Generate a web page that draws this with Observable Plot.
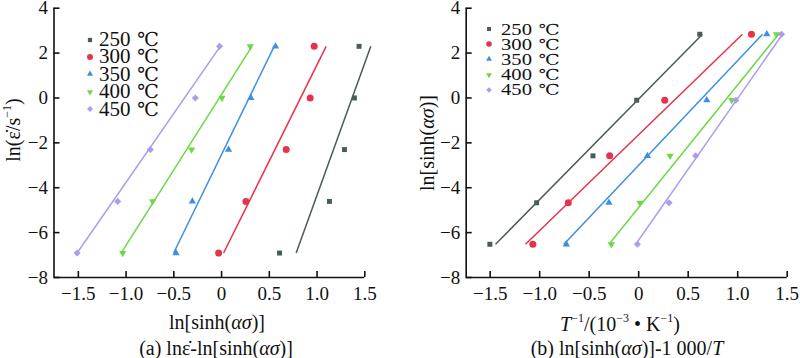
<!DOCTYPE html>
<html><head><meta charset="utf-8">
<script src="https://cdn.jsdelivr.net/npm/d3@7"></script>
<script src="https://cdn.jsdelivr.net/npm/@observablehq/plot@0.6"></script>
<style>
body{margin:0;background:#fff;}
#wrap{position:relative;width:800px;height:358px;font-family:"Liberation Serif","Times New Roman",serif;color:#111;overflow:hidden;}
.pl{position:absolute;top:0;}
.lbl{position:absolute;white-space:nowrap;transform:translate(-50%,-50%);font-size:20px;line-height:1;}
.rot{transform:translate(-50%,-50%) rotate(-90deg);}
sup{font-size:0.6em;line-height:0;vertical-align:0.75em;}
.leg{position:absolute;}
.leg div{position:relative;white-space:nowrap;}
.leg svg{position:absolute;overflow:visible;}
.leg .txt{display:inline-block;transform-origin:0 50%;}
.deg{font-family:"DejaVu Serif","Liberation Serif",serif;font-size:0.92em;margin-left:0.35em;}
</style></head>
<body><div id="wrap"></div>
<script>
// ---------- data ----------
const temps = ["250 ℃", "300 ℃", "350 ℃", "400 ℃", "450 ℃"];
const colors = ["#4a5b58", "#e8324b", "#3c8fe2", "#6ad946", "#aa9ded"];
const xTicks = [-1.5, -1.0, -0.5, 0, 0.5, 1.0, 1.5];
const yTicks = [-8, -6, -4, -2, 0, 2, 4];

// (a) ln(strain rate) vs ln[sinh(ασ)]
const aY = [-6.91, -4.61, -2.30, 0, 2.30];
const aX250 = [0.607, 1.130, 1.287, 1.391, 1.440];
const aX300 = [-0.031, 0.255, 0.677, 0.928, 0.970];
const aX350 = [-0.477, -0.306, 0.073, 0.307, 0.565];
const aX400 = [-1.036, -0.722, -0.314, 0.004, 0.300];
const aX450 = [-1.513, -1.088, -0.746, -0.275, -0.021];
const aFitX1 = [0.781, 0.021, -0.502, -1.052, -1.513];
const aFitX2 = [1.563, 1.095, 0.551, 0.318, -0.014];
const aFitY = [-6.91, 2.30];

// (b) ln[sinh(ασ)] vs 1000/T
const bY = [-6.52, -4.67, -2.58, -0.10, 2.84];
const bX250 = [-1.503, -1.031, -0.462, -0.020, 0.617];
const bX300 = [-1.069, -0.711, -0.293, 0.263, 1.139];
const bX350 = [-0.731, -0.300, 0.088, 0.688, 1.294];
const bX400 = [-0.276, 0.013, 0.317, 0.940, 1.392];
const bX450 = [-0.013, 0.307, 0.576, 0.981, 1.443];
const bFitX1 = [-1.446, -1.143, -0.755, -0.300, -0.030];
const bFitX2 = [0.644, 1.048, 1.251, 1.413, 1.453];
const bFitY = [-6.52, 2.84];

// ---------- symbols ----------
const sqrt3 = Math.sqrt(3);
const triDown = {draw(ctx, size) {
  const y = -Math.sqrt(size / (sqrt3 * 3));
  ctx.moveTo(0, -y * 2); ctx.lineTo(-sqrt3 * y, y); ctx.lineTo(sqrt3 * y, y); ctx.closePath();
}};
const symbols = [d3.symbolSquare, d3.symbolCircle, d3.symbolTriangle, triDown, d3.symbolDiamond2];
const radii = [2.8, 3.5, 2.7, 2.7, 3.2];

const fmtX = d => d === 0 ? "0" : (d < 0 ? "\u2212" : "") + Math.abs(d).toFixed(1);
const fmtY = d => (d < 0 ? "\u2212" : "") + Math.abs(d);

function panel(ys, xsList, fitX1, fitX2, fitY, xDomain, mL, mR) {
  const W = 400, H = 358, mT = 7.7, mB = 81;
  const plotW = W - mL - mR, plotH = H - mT - mB;
  const fits = temps.map((t, i) => ({i, x1: fitX1[i], x2: fitX2[i], y1: fitY[0], y2: fitY[1]}));
  const marks = [
    Plot.ruleY([yTicks[0]], {stroke: "#111", strokeWidth: 1.6}),
    Plot.ruleX([xDomain[0]], {stroke: "#111", strokeWidth: 1.6}),
    Plot.tickX(xTicks, {x: d => d, insetTop: plotH - 6, stroke: "#111", strokeWidth: 1.6}),
    Plot.tickY(yTicks, {y: d => d, insetRight: plotW - 6, stroke: "#111", strokeWidth: 1.6}),
    Plot.axisX({ticks: xTicks, tickSize: 0, tickPadding: 9, tickFormat: fmtX, label: null}),
    Plot.axisY({ticks: yTicks, tickSize: 0, tickPadding: 6, tickFormat: fmtY, label: null}),
    Plot.link(fits, {x1: "x1", y1: "y1", x2: "x2", y2: "y2", stroke: d => colors[d.i], strokeWidth: 1.5})
  ];
  xsList.forEach((xs, i) => {
    const pts = xs.map((x, k) => ({x, y: ys[k]}));
    marks.push(Plot.dot(pts, {x: "x", y: "y", symbol: symbols[i], r: radii[i], fill: colors[i], stroke: "none"}));
  });
  return Plot.plot({
    width: W, height: H, marginLeft: mL, marginRight: mR, marginTop: mT, marginBottom: mB,
    x: {domain: xDomain}, y: {domain: [yTicks[0], yTicks[yTicks.length - 1]]},
    color: {type: "identity"},
    style: {fontFamily: '"Liberation Serif","Times New Roman",serif', fontSize: "19px", color: "#111", background: "transparent"},
    marks
  });
}

const wrap = document.getElementById("wrap");
const pa = panel(aY, [aX250, aX300, aX350, aX400, aX450], aFitX1, aFitX2, aFitY, [-1.755, 1.5], 53.5, 35.7);
pa.classList.add("pl"); pa.style.left = "0px"; wrap.appendChild(pa);
const pb = panel(bY, [bX250, bX300, bX350, bX400, bX450], bFitX1, bFitX2, bFitY, [-1.742, 1.5], 65.7, 13.3);
pb.classList.add("pl"); pb.style.left = "400px"; wrap.appendChild(pb);

function label(html, x, y, rot, size) {
  const d = document.createElement("div");
  d.className = "lbl" + (rot ? " rot" : "");
  d.style.left = x + "px"; d.style.top = y + "px";
  if (size) d.style.fontSize = size + "px";
  d.innerHTML = html; wrap.appendChild(d);
}
label("ln(\u03b5\u0307/s<sup>\u22121</sup>)", 13, 130, true);
label("ln[sinh(<i>\u03b1\u03c3</i>)]", 217, 322);
label("(a) ln\u03b5\u0307-ln[sinh(<i>\u03b1\u03c3</i>)]", 216, 348);
label("ln[sinh(<i>\u03b1\u03c3</i>)]", 427, 143, true);
label("<i>T</i><sup>\u22121</sup>/(10<sup>\u22123</sup> \u2022 K<sup>\u22121</sup>)", 620, 324);
label("(b) ln[sinh(<i>\u03b1\u03c3</i>)]-1 000/<i>T</i>", 627, 348);

function legend(left, top, rowH, markX, textX, fontSize, sx, symScale) {
  const g = document.createElement("div");
  g.className = "leg"; g.style.left = left + "px"; g.style.top = top + "px";
  g.style.fontSize = fontSize + "px";
  temps.forEach((t, i) => {
    const row = document.createElement("div");
    row.style.height = rowH + "px"; row.style.lineHeight = rowH + "px";
    row.style.paddingLeft = textX + "px";
    const sym = d3.symbol(symbols[i], Math.PI * (radii[i] * symScale) ** 2)();
    const [num, unit] = t.split(" ");
    row.innerHTML = `<svg width="1" height="1" style="left:${markX}px;top:${rowH / 2}px"><path d="${sym}" fill="${colors[i]}"/></svg><span class="txt" style="transform:scaleX(${sx})">${num}<span class="deg">${unit}</span></span>`;
    g.appendChild(row);
  });
  wrap.appendChild(g);
}
legend(81, 31, 17.4, 9, 18, 21, 1, 0.85);
legend(480, 21.5, 15.2, 9, 20.5, 16.5, 1.25, 0.8);
</script>
</body></html>
